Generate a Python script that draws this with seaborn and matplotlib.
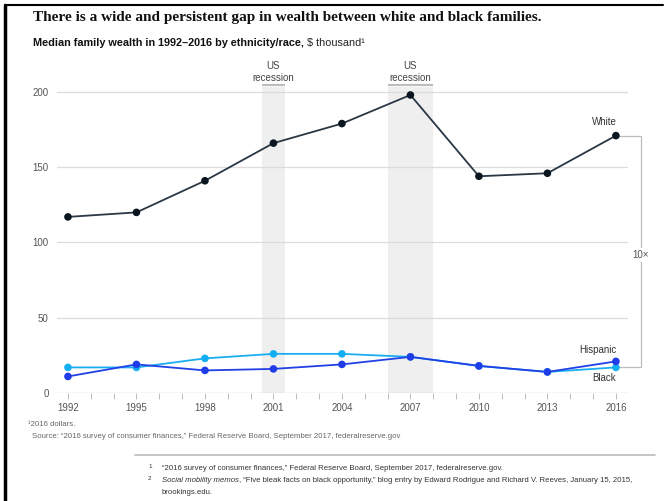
import matplotlib
matplotlib.use("Agg")
import matplotlib.pyplot as plt
import pandas as pd
import seaborn as sns

# Survey years and median family wealth, $ thousand (2016 dollars)
years = [1992, 1995, 1998, 2001, 2004, 2007, 2010, 2013, 2016]
white = [117, 120, 141, 166, 179, 198, 144, 146, 171]
hispanic = [11, 19, 15, 16, 19, 24, 18, 14, 21]
black = [17, 17, 23, 26, 26, 24, 18, 14, 17]
y_ticks = [0, 50, 100, 150, 200]
recessions = [(2000.5, 2001.5), (2006.0, 2008.0)]

series_colors = {"White": "#2a3744", "Hispanic": "#2140e6", "Black": "#1aaef0"}
marker_colors = {"White": "#0b1520", "Hispanic": "#1f3ce6", "Black": "#14aef2"}

df = pd.DataFrame({"year": years, "White": white, "Hispanic": hispanic, "Black": black})
long = df.melt(id_vars="year", var_name="group", value_name="wealth")

sns.set_theme(style="white")
plt.rcParams["font.family"] = ["Liberation Sans", "DejaVu Sans"]

fig = plt.figure(figsize=(6.65, 5.01), dpi=100)
ax = fig.add_axes([57 / 665, (501 - 393) / 501, (628 - 57) / 665, 306.3 / 501])

ymax = 203.5
ax.set_xlim(1991.52, 2016.53)
ax.set_ylim(0, ymax)

# recession shading with a short rule and label above each band
for x0, x1 in recessions:
    ax.axvspan(x0, x1, color="#efefef", zorder=0, lw=0)
    ax.plot([x0, x1], [ymax + 1.0, ymax + 1.0], color="#bdbdbd", lw=1.6,
            clip_on=False, solid_capstyle="butt")
    ax.text((x0 + x1) / 2, ymax + 2.6, "US\nrecession", ha="center", va="bottom",
            fontsize=7, color="#444444", linespacing=1.25)

# horizontal gridlines
for t in y_ticks[1:]:
    ax.axhline(t, color="#dcdcdc", lw=0.9, zorder=1)
ax.axhline(0, color="#bdbdbd", lw=0.9, zorder=1)

order = ["White", "Black", "Hispanic"]
for g in order:
    sub = long[long.group == g]
    sns.lineplot(data=sub, x="year", y="wealth", ax=ax, color=series_colors[g],
                 lw=1.3, zorder=3, legend=False)
    ax.scatter(sub.year, sub.wealth, s=30, color=marker_colors[g], zorder=4,
               edgecolors="none")

# axes styling
for s in ax.spines.values():
    s.set_visible(False)
ax.set_xticks(years)
ax.set_xticklabels([str(y) for y in years])
ax.set_xticks(range(1992, 2017), minor=True)
ax.tick_params(axis="x", which="both", bottom=True, length=4, width=0.7,
               color="#bdbdbd", labelsize=7, labelcolor="#555555", pad=3)
ax.set_yticks(y_ticks)
ax.tick_params(axis="y", length=0, labelsize=7, labelcolor="#555555", pad=6)
ax.set_xlabel("")
ax.set_ylabel("")
ax.grid(False)

# series labels at the last year
last = years[-1]
ax.text(last - 0.5, white[-1] + 6, "White", ha="center", va="bottom", fontsize=7, color="#333333")
ax.text(last - 0.8, hispanic[-1] + 4.5, "Hispanic", ha="center", va="bottom", fontsize=7, color="#333333")
ax.text(last - 0.5, black[-1] - 4, "Black", ha="center", va="top", fontsize=7, color="#333333")

# bracket showing the gap
bx = 2017.1
low = min(hispanic[-1], black[-1])
ax.plot([last, bx, bx, last], [white[-1], white[-1], low, low], color="#bdbdbd",
        lw=0.9, clip_on=False, zorder=2)
ax.text(bx, (white[-1] + low) / 2 - 2.5, "10×", ha="center", va="center", fontsize=7,
        color="#555555", bbox=dict(facecolor="white", edgecolor="none", pad=1.5))

# heading
fig.text(33 / 665, 1 - 17 / 501, "There is a wide and persistent gap in wealth between white and black families.",
         ha="left", va="center", fontsize=10.95, fontweight="bold", family=["Liberation Serif", "DejaVu Serif"],
         color="#111111")
sub_bold = fig.text(33 / 665, 1 - 43 / 501, "Median family wealth in 1992–2016 by ethnicity/race, ",
                    ha="left", va="center", fontsize=7.85, fontweight="bold", color="#111111")
fig.canvas.draw()
bb = sub_bold.get_window_extent()
fig.text(bb.x1 / 665, 1 - 43 / 501, "$ thousand¹", ha="left", va="center", fontsize=7.85, color="#222222")

# notes
fig.text(28 / 665, 1 - 425 / 501, "¹2016 dollars.", ha="left", va="center", fontsize=5.6, color="#666666")
fig.text(32 / 665, 1 - 436 / 501,
         "Source: \u201c2016 survey of consumer finances,\u201d Federal Reserve Board, September 2017, federalreserve.gov",
         ha="left", va="center", fontsize=5.6, color="#666666")

fig.add_artist(plt.Line2D([135 / 665, 655 / 665], [1 - 455 / 501, 1 - 455 / 501], color="#bbbbbb", lw=1.2))
fig.text(148 / 665, 1 - 466 / 501, "1", ha="left", va="center", fontsize=4.5, color="#333333")
fig.text(148 / 665, 1 - 478 / 501, "2", ha="left", va="center", fontsize=4.5, color="#333333")
fig.text(162 / 665, 1 - 468 / 501,
         "\u201c2016 survey of consumer finances,\u201d Federal Reserve Board, September 2017, federalreserve.gov.",
         ha="left", va="center", fontsize=5.6, color="#333333")
ital = fig.text(162 / 665, 1 - 480 / 501, "Social mobility memos", ha="left", va="center",
                fontsize=5.6, color="#333333", style="italic")
fig.canvas.draw()
ib = ital.get_window_extent()
fig.text(ib.x1 / 665, 1 - 480 / 501,
         ", \u201cFive bleak facts on black opportunity,\u201d blog entry by Edward Rodrigue and Richard V. Reeves, January 15, 2015,",
         ha="left", va="center", fontsize=5.6, color="#333333")
fig.text(162 / 665, 1 - 492 / 501, "brookings.edu.", ha="left", va="center", fontsize=5.6, color="#333333")

# page frame on the left and top
fig.add_artist(plt.Line2D([5 / 665, 5 / 665], [0, 1 - 5 / 501], color="black", lw=2.5))
fig.add_artist(plt.Line2D([5 / 665, 663 / 665], [1 - 5 / 501, 1 - 5 / 501], color="black", lw=1.5))

fig.savefig("out.png", dpi=100)
